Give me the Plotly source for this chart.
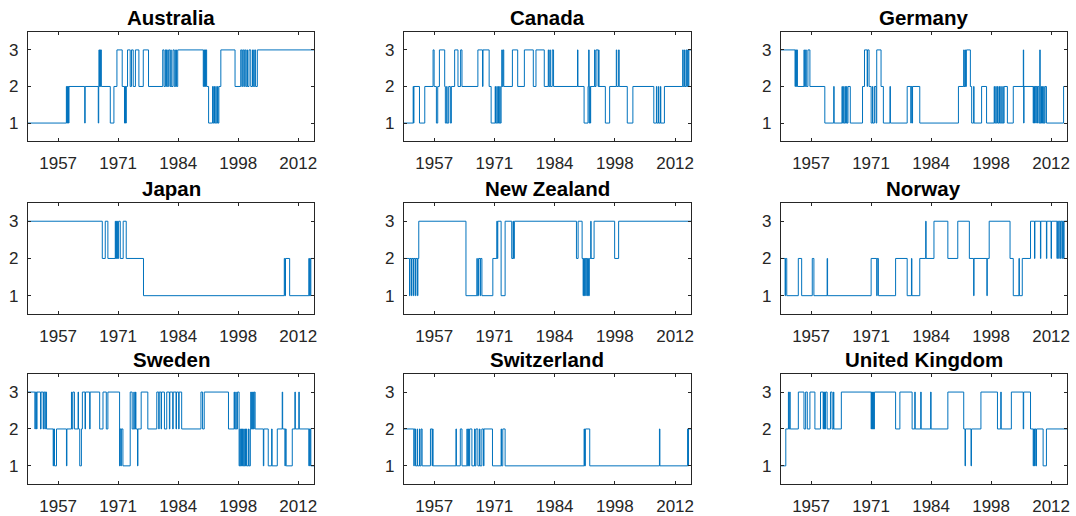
import plotly.graph_objects as go

# Regime series (1, 2, 3) per country: each regime holds from its start year
# until the next start year; the last one runs to END_YEAR.
START_YEAR = 1950.0
END_YEAR = 2015.5

countries = ["Australia", "Canada", "Germany",
             "Japan", "New Zealand", "Norway",
             "Sweden", "Switzerland", "United Kingdom"]

australia_years = [1950.0, 1958.8, 1958.9, 1959.0, 1959.1, 1959.2, 1959.3, 1959.4,
                   1963.0, 1963.1, 1966.1, 1966.2, 1966.26, 1966.35, 1966.45, 1966.55,
                   1966.65, 1966.8, 1968.85, 1969.68, 1970.37, 1971.58, 1972.1, 1972.2,
                   1972.27, 1972.35, 1972.42, 1972.5, 1972.8, 1973.4, 1973.7, 1974.1,
                   1974.6, 1975.4, 1976.4, 1977.6, 1980.85, 1981.15, 1981.45, 1981.6,
                   1981.7, 1981.9, 1982.2, 1982.5, 1982.7, 1982.8, 1983.2, 1983.5,
                   1983.8, 1984.0, 1984.28, 1990.13, 1990.25, 1990.4, 1990.5, 1990.65,
                   1990.75, 1990.9, 1991.35, 1992.26, 1992.4, 1992.6, 1992.7, 1993.0,
                   1993.1, 1993.4, 1993.5, 1993.7, 1994.15, 1997.4, 1998.7, 1998.95,
                   1999.15, 1999.4, 1999.6, 1999.85, 2000.1, 2000.25, 2000.6, 2001.0,
                   2001.4, 2001.6, 2001.9, 2002.1, 2002.5]
australia_regimes = [1, 2, 1, 2, 1, 2, 1, 2,
                     1, 2, 1, 2, 3, 2, 3, 2,
                     3, 2, 1, 2, 3, 2, 1, 2,
                     1, 2, 1, 2, 3, 2, 3, 2,
                     3, 2, 3, 2, 3, 2, 3, 2,
                     3, 2, 3, 2, 3, 2, 3, 2,
                     3, 2, 3, 2, 3, 2, 3, 2,
                     3, 2, 1, 2, 1, 2, 1, 2,
                     1, 2, 1, 2, 3, 2, 3, 2,
                     3, 2, 3, 2, 3, 2, 3, 2,
                     3, 2, 3, 2, 3]

canada_years = [1950.0, 1952.12, 1952.2, 1952.3, 1953.56, 1954.77, 1956.66, 1956.9,
                1957.42, 1957.72, 1958.1, 1959.31, 1959.46, 1959.77, 1959.85, 1960.22,
                1960.6, 1960.83, 1961.58, 1962.34, 1962.94, 1963.25, 1966.88, 1967.94,
                1968.05, 1969.45, 1969.9, 1970.82, 1970.9, 1971.2, 1971.3, 1971.57,
                1971.65, 1971.88, 1971.95, 1972.18, 1972.33, 1972.45, 1972.63, 1972.78,
                1974.75, 1975.96, 1977.48, 1979.52, 1980.13, 1982.02, 1982.93, 1983.05,
                1983.3, 1983.4, 1983.84, 1984.14, 1989.6, 1989.7, 1991.1, 1992.0,
                1992.15, 1992.25, 1992.4, 1992.5, 1992.6, 1993.5, 1993.6, 1993.83,
                1994.3, 1994.43, 1994.5, 1995.95, 1996.93, 1998.45, 1998.55, 1998.98,
                1999.1, 2000.95, 2002.23, 2007.0, 2007.6, 2007.7, 2008.06, 2008.15,
                2008.52, 2008.6, 2009.42, 2013.59, 2013.7, 2013.97, 2014.05, 2014.35,
                2014.5, 2014.72, 2014.85, 2015.0]
canada_regimes = [1, 2, 1, 2, 1, 2, 3, 2,
                  1, 2, 3, 2, 1, 2, 1, 2,
                  1, 2, 3, 2, 3, 2, 3, 2,
                  3, 2, 1, 2, 1, 2, 1, 2,
                  1, 2, 1, 2, 3, 2, 3, 2,
                  3, 2, 3, 2, 3, 2, 3, 2,
                  3, 2, 3, 2, 3, 2, 1, 2,
                  3, 1, 2, 1, 2, 3, 2, 3,
                  2, 3, 2, 1, 2, 3, 2, 3,
                  2, 1, 2, 1, 2, 1, 2, 1,
                  2, 1, 2, 3, 2, 3, 2, 3,
                  2, 3, 2, 3]

germany_years = [1950.0, 1953.26, 1953.35, 1953.56, 1953.65, 1953.8, 1955.3, 1955.4,
                 1955.68, 1955.83, 1956.2, 1956.66, 1960.07, 1962.11, 1962.2, 1964.0,
                 1964.1, 1964.38, 1964.48, 1964.76, 1964.85, 1965.06, 1965.15, 1965.37,
                 1965.9, 1968.7, 1969.15, 1969.76, 1969.85, 1970.2, 1970.67, 1970.97,
                 1971.05, 1971.42, 1971.8, 1971.95, 1972.94, 1973.47, 1974.98, 1975.08,
                 1978.92, 1979.75, 1979.85, 1980.05, 1980.15, 1981.8, 1990.65, 1991.86,
                 1991.95, 1992.16, 1992.25, 1992.47, 1993.38, 1993.68, 1994.13, 1994.22,
                 1995.95, 1997.09, 1998.83, 1998.92, 1999.2, 1999.3, 1999.58, 1999.7,
                 1999.96, 2000.05, 2000.34, 2000.45, 2000.8, 2000.9, 2001.1, 2001.85,
                 2003.2, 2005.5, 2005.58, 2005.66, 2007.76, 2007.85, 2008.06, 2008.15,
                 2008.36, 2008.45, 2008.67, 2008.76, 2009.05, 2009.27, 2009.36, 2009.58,
                 2009.66, 2009.88, 2009.96, 2010.18, 2010.27, 2010.48, 2010.79, 2014.72]
germany_regimes = [3, 2, 3, 2, 3, 2, 3, 2,
                   3, 2, 3, 2, 1, 2, 1, 2,
                   1, 2, 1, 2, 1, 2, 1, 2,
                   1, 2, 3, 2, 3, 2, 1, 2,
                   1, 2, 1, 3, 2, 1, 2, 1,
                   2, 1, 2, 1, 2, 1, 2, 3,
                   2, 3, 2, 3, 2, 1, 2, 1,
                   2, 1, 2, 1, 2, 1, 2, 1,
                   2, 1, 2, 1, 2, 1, 2, 1,
                   2, 3, 1, 2, 1, 2, 1, 2,
                   1, 2, 1, 2, 1, 3, 1, 2,
                   1, 2, 1, 2, 1, 2, 1, 2]

japan_years = [1950.0, 1967.02, 1967.7, 1968.3, 1969.99, 1970.08, 1970.2, 1970.3,
               1970.45, 1970.55, 1970.75, 1971.13, 1971.8, 1972.5, 1976.45, 2008.67,
               2008.8, 2008.95, 2009.9, 2014.3, 2014.38, 2014.52, 2014.6, 2014.75]
japan_regimes = [3, 2, 3, 2, 3, 2, 3, 2,
                 3, 2, 3, 2, 3, 2, 1, 2,
                 1, 2, 1, 2, 1, 2, 1, 2]

new_zealand_years = [1950.0, 1951.29, 1951.4, 1951.74, 1951.85, 1952.2, 1952.3, 1952.65,
                     1952.75, 1953.1, 1953.2, 1953.4, 1964.16, 1966.65, 1966.75, 1967.03,
                     1967.4, 1967.5, 1967.8, 1970.29, 1971.2, 1971.3, 1971.42, 1972.18,
                     1973.09, 1974.6, 1974.9, 1975.0, 1975.2, 1989.36, 1989.74, 1990.65,
                     1990.88, 1990.98, 1991.18, 1991.28, 1991.48, 1991.58, 1991.79, 1991.9,
                     1992.1, 1992.3, 1992.62, 1992.7, 1993.38, 1998.07, 1998.98]
new_zealand_regimes = [2, 1, 2, 1, 2, 1, 2, 1,
                       2, 1, 2, 3, 1, 2, 1, 2,
                       1, 2, 1, 2, 3, 2, 3, 1,
                       3, 2, 3, 2, 3, 2, 3, 2,
                       1, 2, 1, 2, 1, 2, 1, 2,
                       1, 2, 3, 2, 3, 2, 3]

norway_years = [1950.0, 1950.98, 1951.08, 1951.36, 1954.0, 1954.77, 1957.2, 1957.57,
                1960.6, 1960.7, 1970.67, 1971.95, 1972.05, 1972.33, 1976.27, 1978.92,
                1979.9, 1980.0, 1981.8, 1983.16, 1983.25, 1985.05, 1988.23, 1990.5,
                1993.15, 1994.13, 1994.22, 1997.16, 1997.25, 1997.69, 2002.46, 2003.2,
                2004.5, 2004.6, 2005.26, 2007.15, 2008.06, 2008.15, 2009.42, 2009.5,
                2010.79, 2010.88, 2011.85, 2011.95, 2013.2, 2013.3, 2013.6, 2013.7,
                2013.97, 2014.07, 2014.35, 2014.45, 2014.72, 2014.82]
norway_regimes = [2, 1, 2, 1, 2, 1, 2, 1,
                  2, 1, 2, 1, 2, 1, 2, 1,
                  2, 1, 2, 3, 2, 3, 2, 3,
                  2, 1, 2, 1, 2, 3, 2, 1,
                  2, 1, 2, 3, 2, 3, 2, 3,
                  2, 3, 2, 3, 2, 3, 2, 3,
                  2, 3, 2, 3, 2, 3]

sweden_years = [1950.0, 1951.6, 1951.7, 1951.98, 1952.08, 1952.89, 1953.0, 1953.5,
                1953.6, 1953.88, 1953.98, 1954.26, 1955.78, 1955.88, 1956.08, 1956.54,
                1958.82, 1958.92, 1959.96, 1960.05, 1960.26, 1960.64, 1961.48, 1961.57,
                1961.86, 1962.24, 1962.46, 1963.07, 1963.17, 1964.13, 1964.23, 1966.42,
                1967.18, 1967.94, 1968.3, 1970.98, 1971.08, 1971.28, 1971.38, 1971.74,
                1973.41, 1973.86, 1974.24, 1974.34, 1974.62, 1974.72, 1975.08, 1975.18,
                1975.92, 1977.44, 1979.49, 1979.94, 1980.04, 1980.48, 1980.58, 1981.24,
                1981.77, 1982.38, 1982.48, 1983.14, 1983.24, 1983.9, 1984.0, 1984.5,
                1984.6, 1985.19, 1989.6, 1989.97, 1990.35, 1995.9, 1997.19, 1997.29,
                1997.57, 1997.67, 1997.95, 1998.33, 1998.5, 1998.6, 1998.8, 1998.9,
                1999.1, 1999.2, 1999.4, 1999.5, 1999.7, 1999.8, 2000.0, 2000.1,
                2000.5, 2000.6, 2000.9, 2001.0, 2001.1, 2001.25, 2001.35, 2001.5,
                2001.6, 2001.8, 2002.0, 2003.88, 2003.98, 2005.0, 2005.78, 2005.88,
                2007.07, 2008.2, 2008.3, 2008.82, 2008.92, 2009.1, 2010.5, 2011.1,
                2011.2, 2012.0, 2012.1, 2014.3, 2014.38, 2014.52, 2014.6, 2014.75]
sweden_regimes = [3, 2, 3, 2, 3, 2, 3, 2,
                  3, 2, 3, 2, 1, 2, 1, 2,
                  1, 2, 3, 2, 3, 2, 3, 2,
                  1, 2, 3, 2, 3, 2, 3, 2,
                  3, 2, 3, 1, 2, 1, 2, 1,
                  3, 2, 3, 2, 3, 2, 1, 2,
                  3, 2, 3, 2, 3, 2, 3, 2,
                  3, 2, 3, 2, 3, 2, 3, 2,
                  3, 2, 3, 2, 3, 2, 3, 2,
                  3, 2, 3, 1, 2, 1, 2, 1,
                  2, 1, 2, 1, 2, 1, 2, 1,
                  2, 1, 2, 3, 2, 3, 2, 3,
                  2, 3, 2, 1, 2, 1, 2, 1,
                  2, 3, 2, 1, 2, 1, 2, 3,
                  2, 3, 2, 1, 2, 1, 2, 1]

switzerland_years = [1950.0, 1952.27, 1952.37, 1952.65, 1953.03, 1953.13, 1953.56, 1953.66,
                     1953.94, 1954.16, 1956.06, 1956.44, 1956.54, 1956.66, 1961.88, 1961.98,
                     1962.87, 1963.25, 1964.38, 1964.48, 1964.76, 1964.86, 1965.0, 1965.52,
                     1966.12, 1966.22, 1966.43, 1966.88, 1967.26, 1967.36, 1967.79, 1968.17,
                     1968.27, 1970.21, 1972.18, 1972.28, 1972.56, 1973.09, 1991.1, 1991.2,
                     1991.4, 1992.39, 2008.29, 2008.39, 2014.72, 2014.8, 2014.9]
switzerland_regimes = [2, 1, 2, 1, 2, 1, 2, 1,
                       2, 1, 2, 1, 2, 1, 2, 1,
                       2, 1, 2, 1, 2, 1, 2, 1,
                       2, 1, 2, 1, 2, 1, 2, 1,
                       2, 1, 2, 1, 2, 1, 2, 1,
                       2, 1, 2, 1, 2, 1, 2]

united_kingdom_years = [1950.0, 1951.14, 1951.74, 1951.84, 1952.04, 1952.14, 1954.01, 1955.3,
                        1955.68, 1956.06, 1956.66, 1957.8, 1959.08, 1959.69, 1959.79, 1959.92,
                        1960.02, 1960.14, 1960.24, 1960.6, 1961.36, 1961.74, 1962.04, 1962.14,
                        1963.85, 1970.67, 1970.77, 1970.87, 1970.97, 1971.07, 1971.17, 1971.27,
                        1971.42, 1976.27, 1977.25, 1980.05, 1980.66, 1980.76, 1982.02, 1982.12,
                        1984.29, 1984.39, 1988.23, 1991.86, 1992.16, 1992.26, 1993.53, 1993.63,
                        1995.8, 1999.58, 2000.34, 2000.44, 2002.76, 2005.48, 2005.58, 2007.15,
                        2007.76, 2007.86, 2008.06, 2008.16, 2008.36, 2008.52, 2010.03, 2010.79]
united_kingdom_regimes = [1, 2, 3, 2, 3, 2, 3, 2,
                          3, 2, 3, 2, 3, 2, 3, 2,
                          3, 2, 3, 2, 3, 2, 3, 2,
                          3, 2, 3, 2, 3, 2, 3, 2,
                          3, 2, 3, 2, 3, 2, 3, 2,
                          3, 2, 3, 2, 1, 2, 1, 2,
                          3, 2, 3, 2, 3, 2, 3, 2,
                          1, 2, 1, 2, 1, 2, 1, 2]

series = [
    (australia_years, australia_regimes),
    (canada_years, canada_regimes),
    (germany_years, germany_regimes),
    (japan_years, japan_regimes),
    (new_zealand_years, new_zealand_regimes),
    (norway_years, norway_regimes),
    (sweden_years, sweden_regimes),
    (switzerland_years, switzerland_regimes),
    (united_kingdom_years, united_kingdom_regimes),
]

x_tick_labels = ["1957", "1971", "1984", "1998", "2012"]
x_tick_pos = [1956.92, 1970.65, 1984.39, 1998.12, 2011.86]
y_ticks = [1, 2, 3]

LINE_BLUE = "#0072BD"
AXIS_GREY = "#262626"
FONT = "Liberation Sans, Arial, Helvetica, sans-serif"

W, H = 1076, 516
col_px = [(28, 315), (405, 693), (783, 1070)]
row_px = [(32, 143), (205, 318), (378, 490)]

fig = go.Figure()
annotations = []
layout_axes = {}

for i, (name, (yrs, regs)) in enumerate(zip(countries, series)):
    r, c = divmod(i, 3)
    n = i + 1
    xa = "x" if n == 1 else f"x{n}"
    ya = "y" if n == 1 else f"y{n}"
    xs = list(yrs) + [END_YEAR]
    ys = list(regs) + [regs[-1]]
    fig.add_trace(go.Scatter(
        x=xs, y=ys, mode="lines", line=dict(color=LINE_BLUE, width=1, shape="hv"),
        xaxis=xa, yaxis=ya, showlegend=False, hoverinfo="skip"))

    x0, x1 = col_px[c]
    y0, y1 = row_px[r]
    xdom = [x0 / W, x1 / W]
    ydom = [1 - y1 / H, 1 - y0 / H]
    common = dict(showline=True, linecolor=AXIS_GREY, linewidth=1, mirror="ticks",
                  ticks="inside", ticklen=3, tickwidth=1, tickcolor=AXIS_GREY,
                  showgrid=False, zeroline=False,
                  tickfont=dict(family=FONT, size=17, color=AXIS_GREY))
    layout_axes["xaxis" if n == 1 else f"xaxis{n}"] = dict(
        domain=xdom, range=[START_YEAR, END_YEAR], anchor=ya,
        tickmode="array", tickvals=x_tick_pos, ticktext=x_tick_labels,
        ticklabelstandoff=6, **common)
    layout_axes["yaxis" if n == 1 else f"yaxis{n}"] = dict(
        domain=ydom, range=[0.5, 3.5], anchor=xa,
        tickmode="array", tickvals=y_ticks, ticktext=[str(v) for v in y_ticks],
        ticklabelstandoff=5, **common)

    annotations.append(dict(
        text=f"<b>{name}</b>", x=(xdom[0] + xdom[1]) / 2, y=ydom[1],
        xref="paper", yref="paper", xanchor="center", yanchor="bottom",
        yshift=1, showarrow=False,
        font=dict(family=FONT, size=20.5, color="#000000")))

fig.update_layout(
    width=W, height=H, margin=dict(l=0, r=0, t=0, b=0),
    paper_bgcolor="white", plot_bgcolor="white",
    annotations=annotations, hovermode=False, **layout_axes)

fig.write_html("out.html", config={"displayModeBar": False})
